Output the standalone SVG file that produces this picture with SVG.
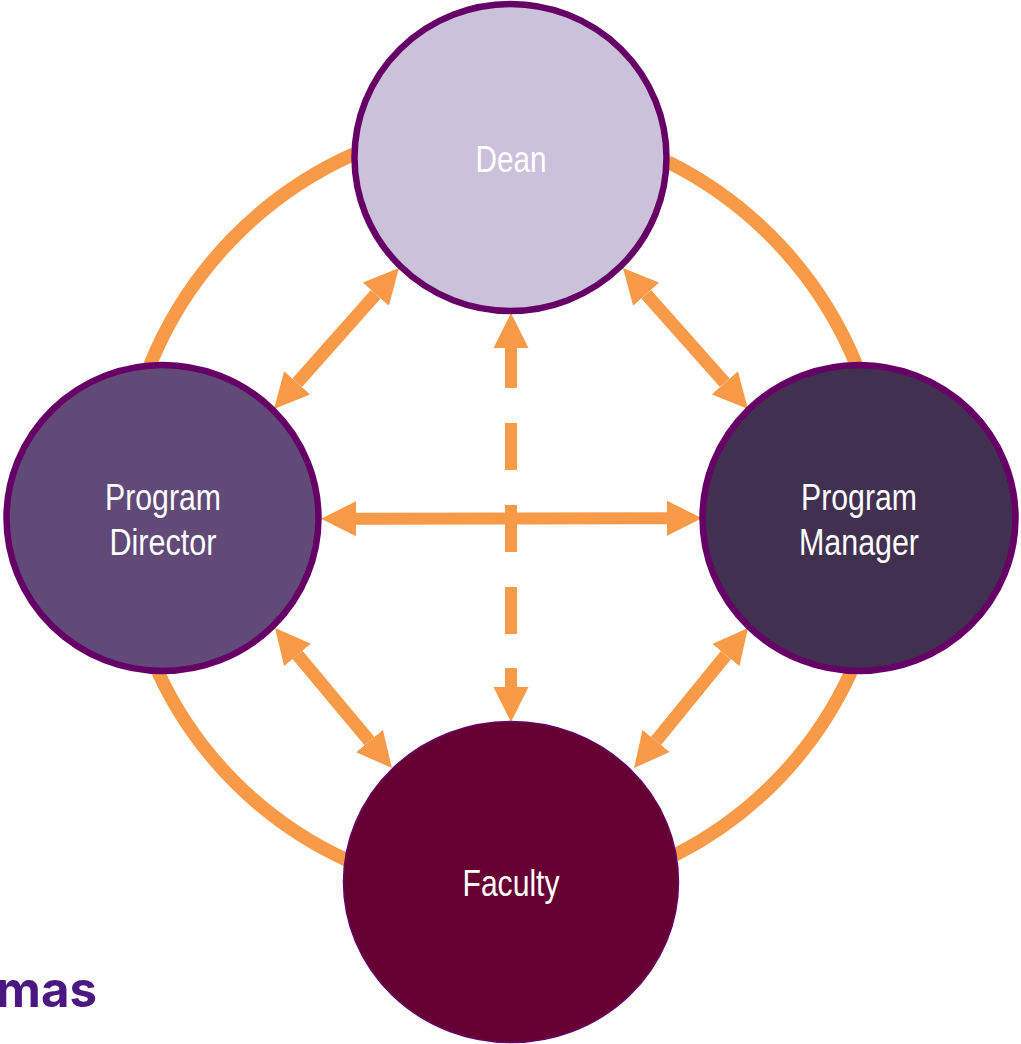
<svg xmlns="http://www.w3.org/2000/svg" width="1021" height="1044" viewBox="0 0 1021 1044">
<style>
.ring{fill:none;stroke:#F99A49;stroke-width:13.5}
.ar{fill:none;stroke:#F99A49;stroke-width:12;marker-start:url(#head);marker-end:url(#head)}
.dg{stroke-width:13}
.dash{fill:none;stroke:#F99A49;stroke-width:12}
.c{stroke:#660066;stroke-width:6.5}
.t{font-family:"Liberation Sans",Arial,sans-serif;font-size:36px;fill:#fff;text-anchor:middle}
</style>
<defs>
<marker id="head" markerUnits="userSpaceOnUse" markerWidth="36" markerHeight="36" refX="0" refY="18" orient="auto-start-reverse" viewBox="0 0 36 36"><path d="M0,0.5 L35,18 L0,35.5 Z" fill="#F99A49"/></marker>
</defs>
<rect width="1021" height="1044" fill="#fff"/>
<g id="connectors">
<path class="ring" d="M354,154 A392,392 0 0 0 150,365"/>
<path class="ring" d="M668,162 A392,392 0 0 1 856,364"/>
<path class="ring" d="M158,672 A384,384 0 0 0 347,860"/>
<path class="ring" d="M851,672 A384,384 0 0 1 675,855"/>
<line class="ar dg" x1="375.8" y1="294.2" x2="297.2" y2="382.8"/>
<line class="ar dg" x1="646.2" y1="294.2" x2="724.8" y2="382.8"/>
<line class="ar dg" x1="297.5" y1="654.9" x2="369.5" y2="741.1"/>
<line class="ar dg" x1="725.9" y1="655.1" x2="656.1" y2="740.9"/>
<line class="ar" x1="356" y1="518.7" x2="667" y2="518.2"/>
<path class="dash" d="M511,505V552M511,423V470M511,587V634"/>
<line class="ar" x1="511" y1="348" x2="511" y2="388" style="marker-end:none"/>
<line class="ar" x1="511" y1="668" x2="511" y2="687" style="marker-start:none"/>
</g>
<g id="dean"><ellipse class="c" cx="510.5" cy="157.5" rx="156" ry="153.5" fill="#CBC1DA"/><text class="t" x="511" y="172" textLength="71" lengthAdjust="spacingAndGlyphs">Dean</text></g>
<g id="program-director"><ellipse class="c" cx="162.5" cy="518" rx="156" ry="153" fill="#614A78"/><text class="t" x="163" y="510" textLength="116" lengthAdjust="spacingAndGlyphs">Program</text><text class="t" x="163" y="555" textLength="107" lengthAdjust="spacingAndGlyphs">Director</text></g>
<g id="program-manager"><ellipse class="c" cx="859" cy="518" rx="156.5" ry="153" fill="#423051"/><text class="t" x="859" y="510" textLength="116" lengthAdjust="spacingAndGlyphs">Program</text><text class="t" x="859" y="555" textLength="120" lengthAdjust="spacingAndGlyphs">Manager</text></g>
<g id="faculty"><ellipse cx="511" cy="882" rx="167.5" ry="160.5" fill="#660033" stroke="#660066" stroke-width="1.5"/><text class="t" x="511" y="896" textLength="97" lengthAdjust="spacingAndGlyphs">Faculty</text></g>
<text x="-4" y="1006.5" font-family="Inter,'Liberation Sans',sans-serif" font-weight="700" font-size="50" fill="#4B1780" textLength="101" lengthAdjust="spacingAndGlyphs">mas</text>
</svg>
